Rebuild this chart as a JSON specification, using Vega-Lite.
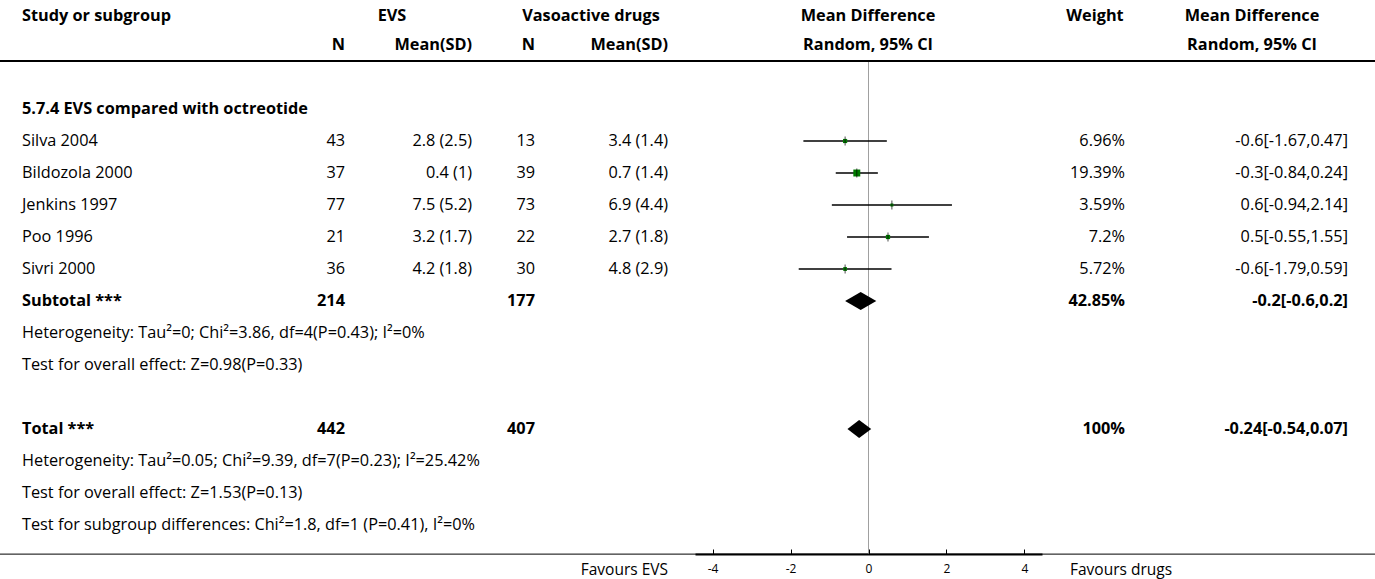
{
  "$schema": "https://vega.github.io/schema/vega-lite/v6.json",
  "width": 1375,
  "height": 554,
  "autosize": "none",
  "padding": {"left": 0, "top": 0, "right": 0, "bottom": 25},
  "background": "white",
  "config": {
    "view": {"stroke": null},
    "text": {"font": "Open Sans", "fontSize": 16.3, "color": "black", "baseline": "middle"}
  },
  "datasets": {
    "header": [
      {"r": 0.08, "c": 0, "t": "Study or subgroup"},
      {"r": 0.08, "c": 2, "t": "EVS"},
      {"r": 0.08, "c": 5, "t": "Vasoactive drugs"},
      {"r": 0.08, "c": 7, "t": "Mean Difference"},
      {"r": 0.08, "c": 9, "t": "Weight"},
      {"r": 0.08, "c": 11, "t": "Mean Difference"},
      {"r": 1, "c": 1, "t": "N"},
      {"r": 1, "c": 3, "t": "Mean(SD)"},
      {"r": 1, "c": 4, "t": "N"},
      {"r": 1, "c": 6, "t": "Mean(SD)"},
      {"r": 1, "c": 7, "t": "Random, 95% CI"},
      {"r": 1, "c": 11, "t": "Random, 95% CI"}
    ],
    "studies": [
      {"r": 4, "study": "Silva 2004", "n1": 43, "m1": "2.8 (2.5)", "n2": 13, "m2": "3.4 (1.4)", "md": -0.6, "lo": -1.67, "hi": 0.47, "weight": 6.96, "wl": "6.96%", "ci": "-0.6[-1.67,0.47]"},
      {"r": 5, "study": "Bildozola 2000", "n1": 37, "m1": "0.4 (1)", "n2": 39, "m2": "0.7 (1.4)", "md": -0.3, "lo": -0.84, "hi": 0.24, "weight": 19.39, "wl": "19.39%", "ci": "-0.3[-0.84,0.24]"},
      {"r": 6, "study": "Jenkins 1997", "n1": 77, "m1": "7.5 (5.2)", "n2": 73, "m2": "6.9 (4.4)", "md": 0.6, "lo": -0.94, "hi": 2.14, "weight": 3.59, "wl": "3.59%", "ci": "0.6[-0.94,2.14]"},
      {"r": 7, "study": "Poo 1996", "n1": 21, "m1": "3.2 (1.7)", "n2": 22, "m2": "2.7 (1.8)", "md": 0.5, "lo": -0.55, "hi": 1.55, "weight": 7.2, "wl": "7.2%", "ci": "0.5[-0.55,1.55]"},
      {"r": 8, "study": "Sivri 2000", "n1": 36, "m1": "4.2 (1.8)", "n2": 30, "m2": "4.8 (2.9)", "md": -0.6, "lo": -1.79, "hi": 0.59, "weight": 5.72, "wl": "5.72%", "ci": "-0.6[-1.79,0.59]"}
    ],
    "summary": [
      {"r": 9, "label": "Subtotal ***", "n1": 214, "n2": 177, "wl": "42.85%", "ci": "-0.2[-0.6,0.2]"},
      {"r": 13, "label": "Total ***", "n1": 442, "n2": 407, "wl": "100%", "ci": "-0.24[-0.54,0.07]"}
    ],
    "diamonds": [
      {"g": "sub", "k": 0, "r": 9, "md": -0.6, "v": 0},
      {"g": "sub", "k": 1, "r": 9, "md": -0.2, "v": -1},
      {"g": "sub", "k": 2, "r": 9, "md": 0.2, "v": 0},
      {"g": "sub", "k": 3, "r": 9, "md": -0.2, "v": 1},
      {"g": "tot", "k": 0, "r": 13, "md": -0.54, "v": 0},
      {"g": "tot", "k": 1, "r": 13, "md": -0.24, "v": -1},
      {"g": "tot", "k": 2, "r": 13, "md": 0.07, "v": 0},
      {"g": "tot", "k": 3, "r": 13, "md": -0.24, "v": 1}
    ],
    "groups": [
      {"r": 3, "t": "5.7.4 EVS compared with octreotide"}
    ],
    "notes": [
      {"r": 10, "t": "Heterogeneity: Tau²=0; Chi²=3.86, df=4(P=0.43); I²=0%"},
      {"r": 11, "t": "Test for overall effect: Z=0.98(P=0.33)"},
      {"r": 14, "t": "Heterogeneity: Tau²=0.05; Chi²=9.39, df=7(P=0.23); I²=25.42%"},
      {"r": 15, "t": "Test for overall effect: Z=1.53(P=0.13)"},
      {"r": 16, "t": "Test for subgroup differences: Chi²=1.8, df=1 (P=0.41), I²=0%"}
    ],
    "favours": [
      {"r": 17.42, "c": 6, "t": "Favours EVS"},
      {"r": 17.42, "c": 8, "t": "Favours drugs"}
    ],
    "lines": [
      {"r": 1.5, "kind": "header"},
      {"r": 16.91, "kind": "bottom"}
    ]
  },
  "layer": [
    {
      "layer": [
        {
          "data": {"name": "header"},
          "transform": [{"filter": {"field": "c", "equal": 0}}],
          "mark": {"type": "text", "align": "left", "fontWeight": "bold"},
          "encoding": {
            "x": {"field": "c", "type": "quantitative", "axis": null, "scale": {"domain": [0,1,2,3,4,5,6,7,8,9,10,11,12], "range": [22,345,392,472,535,591,668,868,1070,1095,1125,1252,1348], "nice": false, "zero": false}},
            "y": {"field": "r", "type": "quantitative", "axis": null, "scale": {"domain": [0, 17], "range": [13, 557], "nice": false, "zero": false}},
            "text": {"field": "t"}
          }
        },
        {
          "data": {"name": "header"},
          "transform": [{"filter": {"field": "c", "oneOf": [1, 3, 4, 6]}}],
          "mark": {"type": "text", "align": "right", "fontWeight": "bold"},
          "encoding": {
            "x": {"field": "c", "type": "quantitative", "axis": null},
            "y": {"field": "r", "type": "quantitative", "axis": null},
            "text": {"field": "t"}
          }
        },
        {
          "data": {"name": "header"},
          "transform": [{"filter": {"not": {"field": "c", "oneOf": [0, 1, 3, 4, 6]}}}],
          "mark": {"type": "text", "align": "center", "fontWeight": "bold"},
          "encoding": {
            "x": {"field": "c", "type": "quantitative", "axis": null},
            "y": {"field": "r", "type": "quantitative", "axis": null},
            "text": {"field": "t"}
          }
        },
        {
          "data": {"name": "groups"},
          "mark": {"type": "text", "align": "left", "fontWeight": "bold"},
          "encoding": {
            "x": {"datum": 0, "type": "quantitative", "axis": null},
            "y": {"field": "r", "type": "quantitative", "axis": null},
            "text": {"field": "t"}
          }
        },
        {
          "data": {"name": "studies"},
          "mark": {"type": "text", "align": "left"},
          "encoding": {
            "x": {"datum": 0, "type": "quantitative", "axis": null},
            "y": {"field": "r", "type": "quantitative", "axis": null},
            "text": {"field": "study"}
          }
        },
        {
          "data": {"name": "studies"},
          "mark": {"type": "text", "align": "right"},
          "encoding": {
            "x": {"datum": 1, "type": "quantitative", "axis": null},
            "y": {"field": "r", "type": "quantitative", "axis": null},
            "text": {"field": "n1"}
          }
        },
        {
          "data": {"name": "studies"},
          "mark": {"type": "text", "align": "right"},
          "encoding": {
            "x": {"datum": 3, "type": "quantitative", "axis": null},
            "y": {"field": "r", "type": "quantitative", "axis": null},
            "text": {"field": "m1"}
          }
        },
        {
          "data": {"name": "studies"},
          "mark": {"type": "text", "align": "right"},
          "encoding": {
            "x": {"datum": 4, "type": "quantitative", "axis": null},
            "y": {"field": "r", "type": "quantitative", "axis": null},
            "text": {"field": "n2"}
          }
        },
        {
          "data": {"name": "studies"},
          "mark": {"type": "text", "align": "right"},
          "encoding": {
            "x": {"datum": 6, "type": "quantitative", "axis": null},
            "y": {"field": "r", "type": "quantitative", "axis": null},
            "text": {"field": "m2"}
          }
        },
        {
          "data": {"name": "studies"},
          "mark": {"type": "text", "align": "right"},
          "encoding": {
            "x": {"datum": 10, "type": "quantitative", "axis": null},
            "y": {"field": "r", "type": "quantitative", "axis": null},
            "text": {"field": "wl"}
          }
        },
        {
          "data": {"name": "studies"},
          "mark": {"type": "text", "align": "right"},
          "encoding": {
            "x": {"datum": 12, "type": "quantitative", "axis": null},
            "y": {"field": "r", "type": "quantitative", "axis": null},
            "text": {"field": "ci"}
          }
        },
        {
          "data": {"name": "summary"},
          "mark": {"type": "text", "align": "left", "fontWeight": "bold"},
          "encoding": {
            "x": {"datum": 0, "type": "quantitative", "axis": null},
            "y": {"field": "r", "type": "quantitative", "axis": null},
            "text": {"field": "label"}
          }
        },
        {
          "data": {"name": "summary"},
          "mark": {"type": "text", "align": "right", "fontWeight": "bold"},
          "encoding": {
            "x": {"datum": 1, "type": "quantitative", "axis": null},
            "y": {"field": "r", "type": "quantitative", "axis": null},
            "text": {"field": "n1"}
          }
        },
        {
          "data": {"name": "summary"},
          "mark": {"type": "text", "align": "right", "fontWeight": "bold"},
          "encoding": {
            "x": {"datum": 4, "type": "quantitative", "axis": null},
            "y": {"field": "r", "type": "quantitative", "axis": null},
            "text": {"field": "n2"}
          }
        },
        {
          "data": {"name": "summary"},
          "mark": {"type": "text", "align": "right", "fontWeight": "bold"},
          "encoding": {
            "x": {"datum": 10, "type": "quantitative", "axis": null},
            "y": {"field": "r", "type": "quantitative", "axis": null},
            "text": {"field": "wl"}
          }
        },
        {
          "data": {"name": "summary"},
          "mark": {"type": "text", "align": "right", "fontWeight": "bold"},
          "encoding": {
            "x": {"datum": 12, "type": "quantitative", "axis": null},
            "y": {"field": "r", "type": "quantitative", "axis": null},
            "text": {"field": "ci"}
          }
        },
        {
          "data": {"name": "notes"},
          "mark": {"type": "text", "align": "left"},
          "encoding": {
            "x": {"datum": 0, "type": "quantitative", "axis": null},
            "y": {"field": "r", "type": "quantitative", "axis": null},
            "text": {"field": "t"}
          }
        },
        {
          "data": {"name": "favours"},
          "transform": [{"filter": {"field": "c", "equal": 6}}],
          "mark": {"type": "text", "align": "right", "fontSize": 15.5},
          "encoding": {
            "x": {"field": "c", "type": "quantitative", "axis": null},
            "y": {"field": "r", "type": "quantitative", "axis": null},
            "text": {"field": "t"}
          }
        },
        {
          "data": {"name": "favours"},
          "transform": [{"filter": {"field": "c", "equal": 8}}],
          "mark": {"type": "text", "align": "left", "fontSize": 15.5},
          "encoding": {
            "x": {"field": "c", "type": "quantitative", "axis": null},
            "y": {"field": "r", "type": "quantitative", "axis": null},
            "text": {"field": "t"}
          }
        }
      ]
    },
    {
      "layer": [
        {
          "data": {"name": "lines"},
          "transform": [{"filter": {"field": "kind", "equal": "header"}}],
          "mark": {"type": "rule", "color": "#a0a0a0", "strokeWidth": 1},
          "encoding": {
            "x": {"datum": 0, "type": "quantitative", "scale": {"domain": [-4.45, 4.45], "range": [695, 1042], "nice": false, "zero": false},
              "axis": {"values": [-4, -2, 0, 2, 4], "labelExpr": "'' + datum.value", "title": null, "grid": false, "domainColor": "black", "domainWidth": 2, "tickColor": "black", "tickWidth": 1, "tickSize": -5, "labelPadding": 14, "labelFont": "Open Sans", "labelFontSize": 12, "labelColor": "black"}},
            "y": {"datum": 1.5, "type": "quantitative", "axis": null, "scale": {"domain": [0, 17], "range": [13, 557], "nice": false, "zero": false}},
            "y2": {"datum": 16.91}
          }
        },
        {
          "data": {"name": "studies"},
          "mark": {"type": "rule", "color": "black", "strokeWidth": 1.5},
          "encoding": {
            "x": {"field": "lo", "type": "quantitative"},
            "x2": {"field": "hi"},
            "y": {"field": "r", "type": "quantitative", "axis": null}
          }
        },
        {
          "data": {"name": "studies"},
          "mark": {"type": "point", "shape": "square", "filled": true, "color": "#007a00", "opacity": 1},
          "encoding": {
            "x": {"field": "md", "type": "quantitative"},
            "y": {"field": "r", "type": "quantitative", "axis": null},
            "size": {"field": "weight", "type": "quantitative", "scale": {"domain": [0, 20], "range": [0, 50]}, "legend": null}
          }
        },
        {
          "data": {"name": "studies"},
          "mark": {"type": "tick", "orient": "vertical", "color": "black", "size": 9, "thickness": 1},
          "encoding": {
            "x": {"field": "md", "type": "quantitative"},
            "y": {"field": "r", "type": "quantitative", "axis": null}
          }
        }
      ]
    },
    {
      "data": {"name": "diamonds"},
      "mark": {"type": "line", "color": "black", "filled": true, "interpolate": "linear-closed", "strokeWidth": 0.5},
      "encoding": {
        "x": {"field": "md", "type": "quantitative", "axis": null, "scale": {"domain": [-4.45, 4.45], "range": [695, 1042], "nice": false, "zero": false}},
        "y": {"field": "r", "type": "ordinal", "axis": null, "scale": {"type": "point", "domain": [0,1,2,3,4,5,6,7,8,9,10,11,12,13,14,15,16,17], "range": [13, 557], "padding": 0}},
        "yOffset": {"field": "v", "type": "quantitative", "scale": {"domain": [-1, 1], "range": [-9, 9]}},
        "detail": {"field": "g"},
        "order": {"field": "k"}
      }
    },
    {
      "data": {"name": "lines"},
      "transform": [{"filter": {"field": "kind", "equal": "header"}}],
      "mark": {"type": "rule", "color": "black", "strokeWidth": 2},
      "encoding": {
        "y": {"field": "r", "type": "quantitative", "axis": null, "scale": {"domain": [0, 17], "range": [13, 557], "nice": false, "zero": false}}
      }
    },
    {
      "data": {"name": "lines"},
      "transform": [{"filter": {"field": "kind", "equal": "bottom"}}],
      "mark": {"type": "rule", "color": "black", "strokeWidth": 1},
      "encoding": {
        "y": {"field": "r", "type": "quantitative", "axis": null, "scale": {"domain": [0, 17], "range": [13, 557], "nice": false, "zero": false}}
      }
    }
  ],
  "resolve": {"scale": {"x": "independent", "y": "independent"}, "axis": {"x": "independent", "y": "independent"}}
}
